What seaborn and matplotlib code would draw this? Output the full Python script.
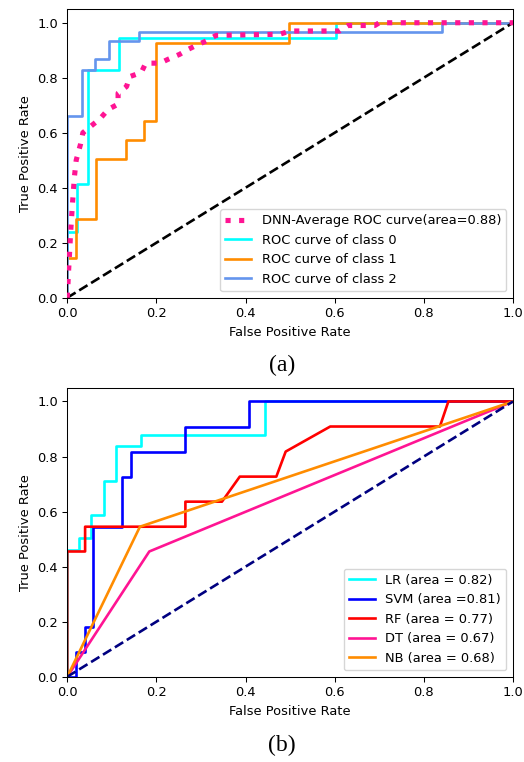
import numpy as np
import pandas as pd
import matplotlib
matplotlib.use('Agg')
import matplotlib.pyplot as plt
import seaborn as sns

# ---- panel (a): DNN ROC curves ----
fpr_c0 = [0, 0, 0.021, 0.021, 0.047, 0.047, 0.116, 0.116, 0.603, 0.603, 1.0]
tpr_c0 = [0, 0.239, 0.239, 0.412, 0.412, 0.827, 0.827, 0.943, 0.943, 1.0, 1.0]

fpr_c1 = [0, 0, 0.019, 0.019, 0.064, 0.064, 0.131, 0.131, 0.172, 0.172, 0.198, 0.198, 0.497, 0.497, 1.0]
tpr_c1 = [0, 0.146, 0.146, 0.287, 0.287, 0.505, 0.505, 0.572, 0.572, 0.644, 0.644, 0.928, 0.928, 1.0, 1.0]

fpr_c2 = [0, 0, 0.032, 0.032, 0.063, 0.063, 0.094, 0.094, 0.16, 0.16, 0.84, 0.84, 1.0]
tpr_c2 = [0, 0.66, 0.66, 0.827, 0.827, 0.867, 0.867, 0.935, 0.935, 0.967, 0.967, 1.0, 1.0]

fpr_avg = [0, 0.003, 0.008, 0.012, 0.016, 0.02, 0.03, 0.035, 0.05, 0.073, 0.092, 0.114, 0.114,
           0.133, 0.14, 0.166, 0.176, 0.208, 0.226, 0.252, 0.271, 0.29, 0.312, 0.334, 0.476,
           0.5, 0.611, 0.63, 0.69, 0.7, 1.0]
tpr_avg = [0, 0.1, 0.25, 0.35, 0.44, 0.5, 0.56, 0.6, 0.62, 0.65, 0.685, 0.704, 0.744,
           0.768, 0.804, 0.819, 0.853, 0.853, 0.867, 0.885, 0.903, 0.918, 0.934, 0.954, 0.958,
           0.97, 0.97, 0.99, 0.99, 1.0, 1.0]

labels_a = ['DNN-Average ROC curve(area=0.88)', 'ROC curve of class 0',
            'ROC curve of class 1', 'ROC curve of class 2']

# ---- panel (b): classical models ----
lr_fpr = [0, 0, 0.026, 0.026, 0.054, 0.054, 0.083, 0.083, 0.109, 0.109, 0.166, 0.166, 0.444, 0.444, 1.0]
lr_tpr = [0, 0.46, 0.46, 0.505, 0.505, 0.587, 0.587, 0.712, 0.712, 0.837, 0.837, 0.877, 0.877, 1.0, 1.0]

svm_fpr = [0, 0.019, 0.019, 0.04, 0.04, 0.058, 0.058, 0.122, 0.122, 0.142, 0.142, 0.265, 0.265, 0.408, 0.408, 1.0]
svm_tpr = [0, 0, 0.091, 0.091, 0.182, 0.182, 0.545, 0.545, 0.727, 0.727, 0.818, 0.818, 0.909, 0.909, 1.0, 1.0]

rf_fpr = [0, 0, 0.04, 0.04, 0.265, 0.265, 0.347, 0.387, 0.469, 0.49, 0.59, 0.836, 0.855, 1.0]
rf_tpr = [0, 0.455, 0.455, 0.545, 0.545, 0.636, 0.636, 0.727, 0.727, 0.818, 0.909, 0.909, 1.0, 1.0]

dt_fpr = [0, 0.184, 1.0]
dt_tpr = [0, 0.455, 1.0]

nb_fpr = [0, 0.163, 1.0]
nb_tpr = [0, 0.545, 1.0]

labels_b = ['LR (area = 0.82)', 'SVM (area =0.81)', 'RF (area = 0.77)',
            'DT (area = 0.67)', 'NB (area = 0.68)']

plt.rcParams['font.family'] = ['DejaVu Sans']
plt.rcParams['font.size'] = 9.4
plt.rcParams['axes.linewidth'] = 0.75
plt.rcParams['xtick.major.size'] = 3.3
plt.rcParams['ytick.major.size'] = 3.3
plt.rcParams['xtick.major.width'] = 0.75
plt.rcParams['ytick.major.width'] = 0.75

lw = 1.9
fig = plt.figure(figsize=(5.24, 7.62), dpi=100)
ax1 = fig.add_axes([0.1284, 0.6093, 0.8506, 0.3789])
ax2 = fig.add_axes([0.1284, 0.1119, 0.8506, 0.3793])


def curve(ax, x, y, **kw):
    d = pd.DataFrame({'x': x, 'y': y})
    sns.lineplot(data=d, x='x', y='y', ax=ax, sort=False, estimator=None, **kw)


# average curve sits on top of the class curves
curve(ax1, fpr_avg, tpr_avg, color='deeppink', linestyle=':', linewidth=3.7,
      label=labels_a[0], zorder=3)
curve(ax1, fpr_c0, tpr_c0, color='aqua', linewidth=lw, label=labels_a[1])
curve(ax1, fpr_c1, tpr_c1, color='darkorange', linewidth=lw, label=labels_a[2])
curve(ax1, fpr_c2, tpr_c2, color='cornflowerblue', linewidth=lw, label=labels_a[3])
ax1.plot([0, 1], [0, 1], 'k--', lw=lw)

curve(ax2, lr_fpr, lr_tpr, color='aqua', linewidth=lw, label=labels_b[0])
curve(ax2, svm_fpr, svm_tpr, color='blue', linewidth=lw, label=labels_b[1])
curve(ax2, rf_fpr, rf_tpr, color='red', linewidth=lw, label=labels_b[2])
curve(ax2, dt_fpr, dt_tpr, color='deeppink', linewidth=lw, label=labels_b[3])
curve(ax2, nb_fpr, nb_tpr, color='darkorange', linewidth=lw, label=labels_b[4])
ax2.plot([0, 1], [0, 1], color='navy', linestyle='--', lw=lw)

for ax in (ax1, ax2):
    ax.set_xlim(0.0, 1.0)
    ax.set_ylim(0.0, 1.05)
    ax.set_xticks(np.arange(0, 1.01, 0.2))
    ax.set_yticks(np.arange(0, 1.01, 0.2))
    ax.set_xlabel('False Positive Rate')
    ax.set_ylabel('True Positive Rate')
    ax.legend(loc='lower right')

fig.text(0.538, 0.521, '(a)', ha='center', va='center', family='Liberation Serif', fontsize=17)
fig.text(0.538, 0.022, '(b)', ha='center', va='center', family='Liberation Serif', fontsize=17)

fig.savefig('out.png', dpi=100)
